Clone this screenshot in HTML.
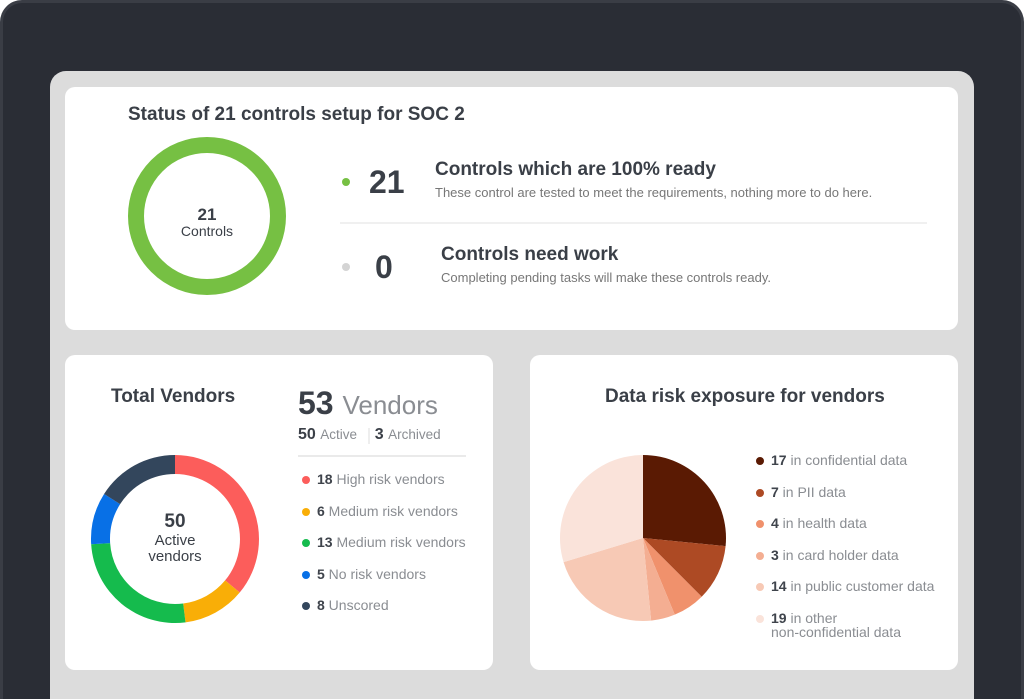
<!DOCTYPE html>
<html><head><meta charset="utf-8">
<style>
*{margin:0;padding:0;box-sizing:border-box}
html,body{width:1024px;height:699px;overflow:hidden}
body{background:#fff;font-family:"Liberation Sans",sans-serif;position:relative}
.frame{position:absolute;left:0;top:0;width:1024px;height:699px;background:#2a2d35;border-radius:22px 22px 0 0;border:3px solid #3a3d45;border-bottom:none}
.panel{position:absolute;left:50px;top:71px;width:924px;height:628px;background:#dcdcdc;border-radius:16px 16px 0 0}
.card{position:absolute;background:#fff;border-radius:10px}
.abs{position:absolute;white-space:nowrap}
.title{font-size:19px;font-weight:bold;color:#3a3f47}
.dot{position:absolute;width:8px;height:8px;border-radius:50%}
.leg{font-size:14px;color:#8a8d92}
.leg b{color:#3f444c}
</style></head><body>
<div class="frame"></div>
<div class="panel"></div>

<div class="card" style="left:65px;top:87px;width:893px;height:243px"></div>
<div class="card" style="left:65px;top:355px;width:428px;height:315px"></div>
<div class="card" style="left:530px;top:355px;width:428px;height:315px"></div>

<svg class="abs" style="left:0;top:0" width="1024" height="699">
<circle cx="207" cy="216" r="71" fill="none" stroke="#76c043" stroke-width="16"/>
<g id="vend"></g><g id="risk"></g>
<line x1="340" y1="223" x2="927" y2="223" stroke="#ececec" stroke-width="1.5"/>
<line x1="298" y1="456" x2="466" y2="456" stroke="#e3e3e3" stroke-width="1.5"/>
<line x1="369" y1="428" x2="369" y2="444" stroke="#ddd" stroke-width="1"/>
</svg>

<div class="abs title" style="left:128px;top:104px">Status of 21 controls setup for SOC 2</div>
<div class="abs" style="left:167px;top:206px;width:80px;text-align:center;color:#3a3f47"><div style="font-size:17px;font-weight:bold;line-height:18px">21</div><div style="font-size:14px;line-height:14px">Controls</div></div>

<div class="dot" style="left:342px;top:178px;background:#76c043"></div>
<div class="abs" style="left:369px;top:164px;font-size:32px;font-weight:bold;color:#3a3f47">21</div>
<div class="abs" style="left:435px;top:159px;font-size:19px;font-weight:bold;color:#3a3f47">Controls which are 100% ready</div>
<div class="abs" style="left:435px;top:185px;font-size:13px;color:#777">These control are tested to meet the requirements, nothing more to do here.</div>

<div class="dot" style="left:342px;top:263px;background:#d4d4d4"></div>
<div class="abs" style="left:375px;top:249px;font-size:32px;font-weight:bold;color:#3a3f47">0</div>
<div class="abs" style="left:441px;top:244px;font-size:19px;font-weight:bold;color:#3a3f47">Controls need work</div>
<div class="abs" style="left:441px;top:270px;font-size:13px;color:#777">Completing pending tasks will make these controls ready.</div>

<div class="abs title" style="left:111px;top:386px">Total Vendors</div>
<div class="abs" style="left:298px;top:385px;font-size:32px;font-weight:bold;color:#3a3f47">53 <span style="font-weight:normal;color:#8a8d92;font-size:26px">Vendors</span></div>
<div class="abs" style="left:298px;top:426px;font-size:16px;font-weight:bold;color:#3a3f47">50 <span style="font-weight:normal;font-size:13.5px;color:#8a8d92">Active</span>&nbsp;&nbsp;&nbsp; 3 <span style="font-weight:normal;font-size:13.5px;color:#8a8d92">Archived</span></div>
<div class="abs" style="left:135px;top:511px;width:80px;text-align:center;color:#3a3f47"><div style="font-size:19px;font-weight:bold;line-height:22px">50</div><div style="font-size:15px;line-height:16px">Active<br>vendors</div></div>
<div id="vleg"></div>

<div class="abs title" style="left:605px;top:386px">Data risk exposure for vendors</div>
<div id="rleg"></div>

<script>
const vendorLabels=["High risk vendors","Medium risk vendors","Medium risk vendors","No risk vendors","Unscored"];
const vendorValues=[18,6,13,5,8];
const vendorColors=["#fc5d5b","#f9ae07","#15bb4d","#0870e6","#33465c"];
const riskLabels=["in confidential data","in PII data","in health data","in card holder data","in public customer data","in other<br>non-confidential data"];
const riskValues=[17,7,4,3,14,19];
const riskColors=["#5a1a03","#ad4a24","#f0916c","#f4ae92","#f7c9b5","#fae3da"];
const NS="http://www.w3.org/2000/svg";
function pt(cx,cy,r,a){return (cx+r*Math.sin(a)).toFixed(2)+","+(cy-r*Math.cos(a)).toFixed(2);}
function slices(g,vals,cols,cx,cy,ro,ri,name){
 const tot=vals.reduce((a,b)=>a+b,0);let a0=0;
 vals.forEach((v,i)=>{const a1=a0+v/tot*2*Math.PI;const lg=(a1-a0)>Math.PI?1:0;
  const p1=pt(cx,cy,ro,a0),p2=pt(cx,cy,ro,a1);let d;
  if(ri>0){const p3=pt(cx,cy,ri,a1),p4=pt(cx,cy,ri,a0);
   d=`M${p1} A${ro},${ro} 0 ${lg} 1 ${p2} L${p3} A${ri},${ri} 0 ${lg} 0 ${p4} Z`;}
  else d=`M${cx},${cy} L${p1} A${ro},${ro} 0 ${lg} 1 ${p2} Z`;
  const p=document.createElementNS(NS,"path");p.setAttribute("d",d);p.setAttribute("fill",cols[i]);
  
  
  g.appendChild(p);a0=a1;});
}
slices(document.getElementById("vend"),vendorValues,vendorColors,175,539,84,65,"vendor");
slices(document.getElementById("risk"),riskValues,riskColors,643,538,83,0,"risk");
function legend(id,vals,labels,cols,x,y0,dy,name){
 const c=document.getElementById(id);
 vals.forEach((v,i)=>{const e=document.createElement("div");e.className="abs leg";
  e.style.left=x+"px";e.style.top=(y0+i*dy)+"px";e.style.lineHeight="14px";
  e.innerHTML=`<span class="dot" style="left:0;top:4px;background:${cols[i]}"></span><span style="position:absolute;left:15px;top:0"><b>${v}</b> ${labels[i]}</span>`;
  
  
  c.appendChild(e);});
}
legend("vleg",vendorValues,vendorLabels,vendorColors,302,472,31.5,"vendor");
legend("rleg",riskValues,riskLabels,riskColors,756,453,31.5,"risk");
</script>
</body></html>
